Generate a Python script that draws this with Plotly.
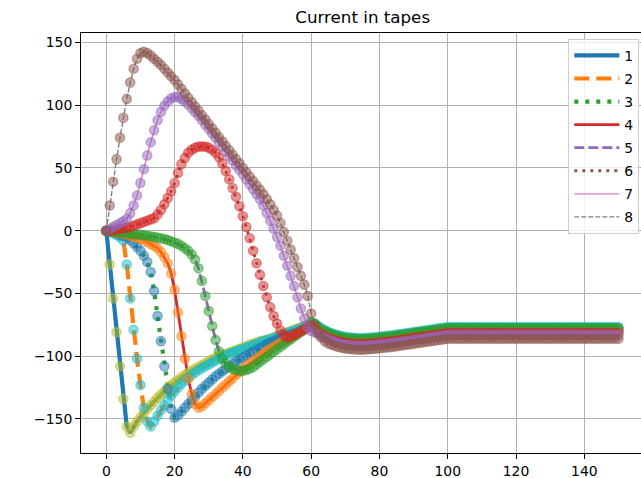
import plotly.graph_objects as go

# time axis: one sample per unit, 0..150
time_s = list(range(151))

# current per tape for t = 0..100; after t = 100 each tape holds a steady value
tape1_ramp = [0, -27, -54, -81, -108, -134, -156, -161, -156, -152,
              -148.5, -145, -142, -139, -136, -133, -130.5, -128, -125.5, -123,
              -121, -119, -117, -115, -113, -111.5, -110, -108.5, -107, -105.5,
              -104, -102.5, -101, -100, -99, -98, -97, -96, -95, -94,
              -93, -92, -91, -90, -89, -88, -87.5, -87, -86, -85,
              -84, -83, -82, -81, -80, -79, -78, -77, -76, -75,
              -73.5, -75, -77.5, -79.5, -81, -82.3, -83.4, -84.3, -85.1, -85.8,
              -86.3, -86.7, -87, -87.2, -87.3, -87.3, -87.2, -87, -86.8, -86.5,
              -86.2, -85.9, -85.6, -85.3, -85, -84.6, -84.2, -83.8, -83.4, -83,
              -82.6, -82.2, -81.8, -81.4, -81, -80.6, -80.2, -79.8, -79.4, -79,
              -78.6]
tape2_ramp = [0, -1, -2, -3.5, -5, -8, -27, -54, -79, -102,
              -123, -141, -152, -156, -152, -147.5, -143, -139, -135, -131.5,
              -128, -125, -122, -119.5, -117, -115, -113, -111, -109.5, -108,
              -106.5, -105, -103.5, -102, -100.5, -99, -98, -97, -96, -95,
              -94, -93, -92, -91, -90, -89, -88, -87, -86.5, -85.5,
              -84.5, -83.5, -82.5, -81.5, -80.5, -79.5, -78.5, -77.5, -76.5, -75.5,
              -73.5, -74, -75.7, -77.7, -79.2, -80.5, -81.6, -82.5, -83.3, -84,
              -84.5, -84.9, -85.2, -85.4, -85.5, -85.5, -85.4, -85.2, -85, -84.7,
              -84.4, -84.1, -83.8, -83.5, -83.2, -82.8, -82.4, -82, -81.6, -81.2,
              -80.8, -80.4, -80, -79.6, -79.2, -78.8, -78.4, -78, -77.6, -77.2,
              -76.8]
tape3_ramp = [0, -0.5, -1, -2, -3, -4, -5.5, -7.5, -10, -13,
              -16, -20, -25, -33, -48, -68, -88, -108, -126, -142,
              -149, -147, -144, -141, -138, -135, -132, -129, -126, -123.5,
              -121, -118.5, -116, -114, -112, -110, -108, -106, -104, -102.5,
              -101, -99.5, -98, -96.5, -95, -93.5, -92, -90.5, -89, -88,
              -87, -86, -85, -84, -83, -82, -81, -80, -78.5, -77,
              -75.5, -76, -78.5, -80.5, -82, -83.3, -84.4, -85.3, -86.1, -86.8,
              -87.3, -87.7, -88, -88.2, -88.3, -88.3, -88.2, -88, -87.8, -87.5,
              -87.2, -86.9, -86.6, -86.3, -86, -85.6, -85.2, -84.8, -84.4, -84,
              -83.6, -83.2, -82.8, -82.4, -82, -81.6, -81.2, -80.8, -80.4, -80,
              -79.6]
tape4_ramp = [0, -0.5, -1, -1.5, -2, -2.5, -3, -4, -5, -5.5,
              -6.5, -7.5, -9, -10.5, -12, -14, -17, -21, -26, -34,
              -47, -65, -84, -102, -118, -130, -138, -141, -140, -137.5,
              -135, -132.5, -130, -127.5, -125, -122.5, -120, -117.5, -115, -112.5,
              -110, -108, -106, -104, -102, -100, -98, -96, -94, -92.5,
              -91, -89.5, -88, -86.5, -85, -83.5, -82, -80.5, -79, -77.5,
              -76, -76.5, -79, -81, -82.5, -83.8, -84.9, -85.8, -86.6, -87.3,
              -87.8, -88.2, -88.5, -88.7, -88.8, -88.8, -88.7, -88.5, -88.3, -88,
              -87.7, -87.4, -87.1, -86.8, -86.5, -86.1, -85.7, -85.3, -84.9, -84.5,
              -84.1, -83.7, -83.3, -82.9, -82.5, -82.1, -81.7, -81.3, -80.9, -80.5,
              -80.1]
tape5_ramp = [0, -0.3, -0.6, -1, -1.3, -1.6, -2, -2.3, -2.6, -3,
              -3.3, -3.6, -4, -4.5, -5, -5.5, -6, -6.7, -7.5, -8.5,
              -9.5, -10.5, -12, -14, -16, -19, -23, -30, -40, -52,
              -64, -76, -87, -96, -102, -106, -108.5, -110, -111, -111.5,
              -111.5, -111, -110, -108.5, -106.5, -104.5, -102.5, -100.5, -98.5, -96.5,
              -94.5, -92.5, -90.5, -88.5, -86.5, -84.5, -82.5, -80.5, -78.5, -76,
              -73, -74, -76.5, -78.5, -80, -81.3, -82.4, -83.3, -84.1, -84.8,
              -85.3, -85.7, -86, -86.2, -86.3, -86.3, -86.2, -86, -85.8, -85.5,
              -85.2, -84.9, -84.6, -84.3, -84, -83.6, -83.2, -82.8, -82.4, -82,
              -81.6, -81.2, -80.8, -80.4, -80, -79.6, -79.2, -78.8, -78.4, -78,
              -77.6]
tape6_ramp = [0, 0, 0.5, 1, 1.5, 2, 2.5, 3, 4, 5,
              6, 7, 8, 9, 10, 13, 16.5, 21, 26, 31.5,
              38, 46, 53, 58, 62, 64.5, 66, 67, 67, 67,
              66, 64.5, 62, 58.5, 53.5, 47.5, 41, 34, 27, 19.5,
              11.5, 3, -6, -16, -26, -35, -44, -53, -61, -68,
              -74, -79.5, -83, -85, -84.5, -83, -81.5, -80, -78.5, -77,
              -75.5, -78, -80.5, -82.5, -84, -85.3, -86.4, -87.3, -88.1, -88.8,
              -89.3, -89.7, -90, -90.2, -90.3, -90.3, -90.2, -90, -89.8, -89.5,
              -89.2, -88.9, -88.6, -88.3, -88, -87.6, -87.2, -86.8, -86.4, -86,
              -85.6, -85.2, -84.8, -84.4, -84, -83.6, -83.2, -82.8, -82.4, -82,
              -81.6]
tape7_ramp = [0, 1.5, 3, 4.5, 6, 7.5, 9.5, 14, 20, 28,
              38, 49, 60, 70.5, 80, 88, 94.5, 99.5, 103, 105.5,
              106.5, 106.5, 105, 103, 100.5, 97.5, 94.5, 91.5, 88, 84.5,
              81, 77.5, 74, 70.5, 67, 63, 59.5, 56, 52, 48.5,
              45, 41, 37, 33, 29, 25, 20, 14, 8, 1.5,
              -5, -12, -20, -28, -36, -44, -53, -62, -70, -76.5,
              -80, -81, -82.5, -84, -85.5, -86.8, -87.9, -88.8, -89.6, -90.3,
              -90.8, -91.2, -91.5, -91.7, -91.8, -91.8, -91.7, -91.5, -91.3, -91,
              -90.7, -90.4, -90.1, -89.8, -89.5, -89.1, -88.7, -88.3, -87.9, -87.5,
              -87.1, -86.7, -86.3, -85.9, -85.5, -85.1, -84.7, -84.3, -83.9, -83.5,
              -83.1]
tape8_ramp = [0, 20, 39, 57, 74, 90, 105, 118, 129, 137,
              141.5, 142.5, 141.5, 139.5, 137, 134.5, 132, 129, 126, 123,
              120, 116.5, 113, 109.5, 106, 102.5, 99, 95.5, 92, 88.5,
              85, 81.5, 78, 74.5, 71, 67.5, 64, 60.5, 57, 53.5,
              50, 46.5, 43, 39.5, 36, 32.5, 29, 25, 21, 16.5,
              12, 6, -1, -8, -15, -22, -29, -36, -43, -52,
              -66, -75, -81, -85, -88, -89.8, -90.9, -91.8, -92.6, -93.3,
              -93.8, -94.2, -94.5, -94.7, -94.8, -94.8, -94.7, -94.5, -94.3, -94,
              -93.7, -93.4, -93.1, -92.8, -92.5, -92.1, -91.7, -91.3, -90.9, -90.5,
              -90.1, -89.7, -89.3, -88.9, -88.5, -88.1, -87.7, -87.3, -86.9, -86.5,
              -86.1]

# steady values held from t = 101 to 150
steady = [-78.6, -76.8, -79.6, -80.1, -77.6, -81.6, -83.1, -86.1]

ramps = [tape1_ramp, tape2_ramp, tape3_ramp, tape4_ramp,
         tape5_ramp, tape6_ramp, tape7_ramp, tape8_ramp]
tape_labels = ["1", "2", "3", "4", "5", "6", "7", "8"]

tapes = [r + [s] * (len(time_s) - len(r)) for r, s in zip(ramps, steady)]

# line styling per tape
line_colors = ["#1f77b4", "#ff7f0e", "#2ca02c", "#d62728",
               "#9467bd", "#8c564b", "#e377c2", "#7f7f7f"]
line_widths = [4.2, 4.2, 4.2, 2.8, 2.8, 2.8, 1.4, 1.4]
line_dashes = ["solid", "15px,7px", "4px,7px", "solid",
               "10px,4px", "3px,5px", "solid", "5px,2px"]
# scatter colours continue the colour cycle after the eight lines
marker_rgb = [(188, 189, 34), (23, 190, 207), (31, 119, 180), (255, 127, 14),
              (44, 160, 44), (214, 39, 40), (148, 103, 189), (140, 86, 75)]

fig = go.Figure()

for vals, name, col, w, d in zip(tapes, tape_labels, line_colors, line_widths, line_dashes):
    fig.add_trace(go.Scatter(
        x=time_s, y=vals, mode="lines", name=name, legendgroup=name,
        line=dict(color=col, width=w, dash=d),
    ))

# translucent sample points, plotted after the lines so they sit on top
for vals, (r, g, b) in zip(tapes, marker_rgb):
    rgba = f"rgba({r},{g},{b},0.5)"
    fig.add_trace(go.Scatter(
        x=time_s, y=vals, mode="markers", showlegend=False, hoverinfo="skip",
        marker=dict(size=9.2, color=rgba, line=dict(color=rgba, width=1.4)),
    ))

axis_font = dict(family="DejaVu Sans", size=13.9, color="#000000")

fig.update_layout(
    width=641, height=478,
    margin=dict(l=81, r=0, t=33, b=25),
    paper_bgcolor="white", plot_bgcolor="white",
    font=dict(family="DejaVu Sans", size=13.9, color="#000000"),
    title=dict(text="Current in tapes", x=0.503, xref="paper", xanchor="center",
               y=1 - 17 / 478, yref="container", yanchor="middle",
               font=dict(family="DejaVu Sans", size=16.7, color="#000000")),
    showlegend=True,
    legend=dict(x=0.997, y=0.986, xanchor="right", yanchor="top",
                bgcolor="rgba(255,255,255,0.8)", bordercolor="#cccccc", borderwidth=1,
                font=dict(family="DejaVu Sans", size=13.9, color="#000000"),
                traceorder="grouped", tracegroupgap=2, itemwidth=45),
)

fig.update_xaxes(
    range=[-7.41, 156.6], tickmode="array", tickvals=[0, 20, 40, 60, 80, 100, 120, 140],
    showgrid=True, gridcolor="#b0b0b0", gridwidth=1.1, zeroline=False,
    showline=True, linecolor="#000000", linewidth=1.1, mirror=True,
    ticks="outside", ticklen=4.9, tickwidth=1.1, tickcolor="#000000",
    tickfont=axis_font,
)
fig.update_yaxes(
    range=[-177.1, 157.5], tickmode="array",
    tickvals=[-150, -100, -50, 0, 50, 100, 150],
    showgrid=True, gridcolor="#b0b0b0", gridwidth=1.1, zeroline=False,
    showline=True, linecolor="#000000", linewidth=1.1, mirror=False,
    ticks="outside", ticklen=4.9, tickwidth=1.1, tickcolor="#000000",
    tickfont=axis_font,
)

fig.write_html("out.html")
